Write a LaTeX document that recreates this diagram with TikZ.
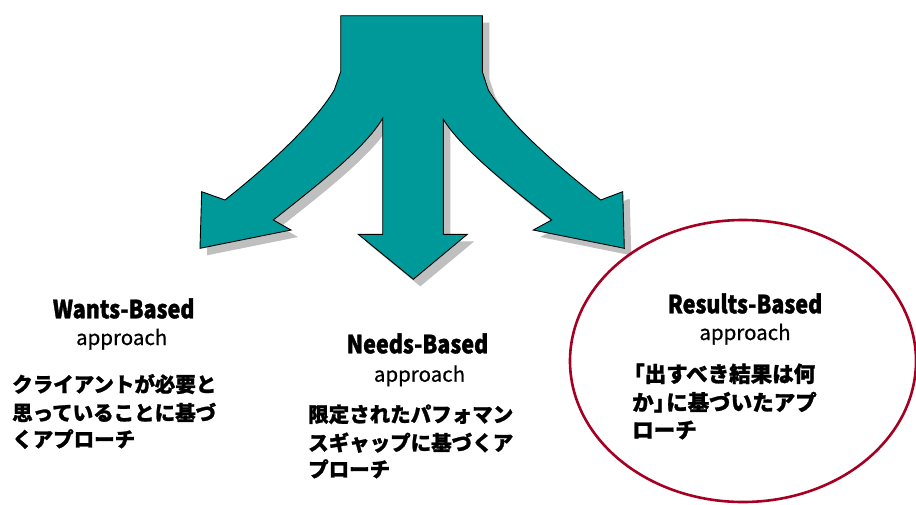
\documentclass[tikz,border=0pt]{standalone}
\usepackage{fontspec}
\newfontfamily\jp{Noto Sans CJK JP}[BoldFeatures={FakeBold=1.2}]
\newfontfamily\jpm{Noto Sans CJK JP}[FakeBold=0.6]
\newfontfamily\hd{Noto Sans CJK JP}[FakeStretch=0.86, BoldFeatures={FakeBold=1.4}]
\definecolor{arrowteal}{HTML}{009999}
\definecolor{shadowgray}{HTML}{BFBFBF}
\definecolor{ringred}{HTML}{A50021}
\tikzset{
  arrowshape/.pic={
    \path[pic actions]
      (340.7,15.7) -- (482.3,15.7) -- (482.3,71.7) -- (488.3,90)
      .. controls (508,122) and (552,162) .. (600.7,200)
      -- (622.7,191.7) -- (624.3,248.3) -- (533.3,230) -- (551.7,220)
      .. controls (505,183) and (461,148) .. (443.3,119.3)
      -- (443.3,234.3) -- (467.3,234.3) -- (413.3,279.3) -- (358.3,234.3)
      -- (382.7,234.3) -- (382.7,118.3)
      .. controls (365,148) and (320,183) .. (273.3,220)
      -- (291,230) -- (200,248.3) -- (201.7,191.7) -- (225,200)
      .. controls (273,162) and (315,122) .. (334.3,90)
      -- (340.7,71.7) -- cycle;
  },
  headtxt/.style={anchor=base, inner sep=0pt, font=\hd\bfseries\fontsize{25}{25}\selectfont},
  apptxt/.style={anchor=base, inner sep=0pt, font=\jpm\fontsize{20.5}{20.5}\selectfont},
  bodytxt/.style={anchor=base west, inner sep=0pt, font=\jp\bfseries\fontsize{20.5}{20.5}\selectfont},
  bodytxtl/.style={anchor=base west, inner sep=0pt, font=\jp\bfseries\fontsize{21.5}{21.5}\selectfont}
}
\begin{document}
\begin{tikzpicture}[x=1pt,y=-1pt]
\useasboundingbox (0,0) rectangle (916,504);
\fill[white] (0,0) rectangle (916,504);
% arrow with shadow
\pic[fill=shadowgray] at (7,7) {arrowshape};
\pic[fill=arrowteal, draw=black, line width=0.9pt, line join=miter] at (0,0) {arrowshape};
% ellipse
\draw[ringred, line width=2.6pt] (743,361) ellipse [x radius=173, y radius=141];
% Wants
\node[headtxt] (wh) at (123.7,318.3) {Wants-Based};
\node[apptxt] (wa) at (121.7,345) {approach};
\node[bodytxt] (w1) at (12,392) {クライアントが必要と};
\node[bodytxt] (w2) at (12,420.5) {思っていることに基づ};
\node[bodytxt] (w3) at (12,447) {くアプローチ};
% Needs
\node[headtxt] (nh) at (417.5,353.3) {Needs-Based};
\node[apptxt] (na) at (419.5,381.7) {approach};
\node[bodytxt] (n1) at (308,422) {限定されたパフォマン};
\node[bodytxt] (n2) at (308,450.5) {スギャップに基づくア};
\node[bodytxt] (n3) at (308,477) {プローチ};
% Results
\node[headtxt] (rh) at (745,313.3) {Results-Based};
\node[apptxt] (ra) at (745,340) {approach};
\node[bodytxtl] (r1) at (623,382) {「出すべき結果は何};
\node[bodytxtl] (r2) at (632,410.5) {か」\kern-9pt に基づいたアプ};
\node[bodytxtl] (r3) at (632,438) {ローチ};
\end{tikzpicture}
\end{document}
